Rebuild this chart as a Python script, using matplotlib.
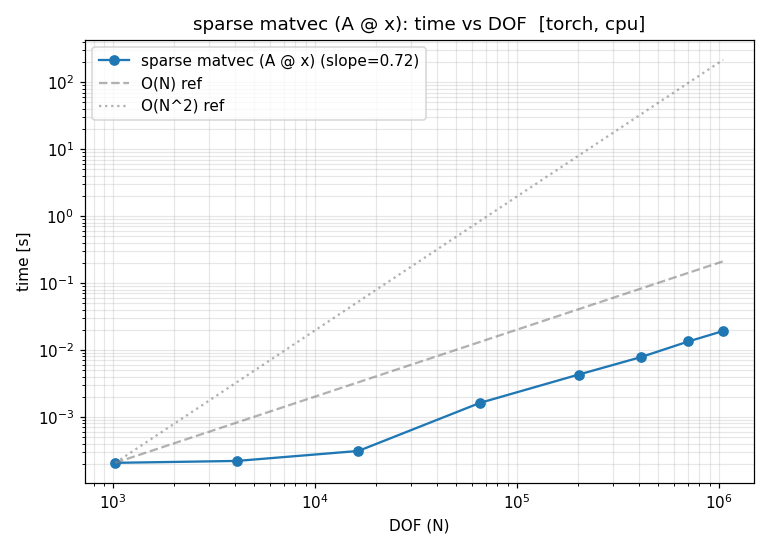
import numpy as np
import matplotlib
matplotlib.use("Agg")
import matplotlib.pyplot as plt

# DOF and measured matvec times
dof = np.array([1024, 4096, 16384, 65536, 202500, 409600, 705600, 1048576])
times = np.array([2.06e-4, 2.2e-4, 3.1e-4, 1.62e-3, 4.3e-3, 7.8e-3, 1.34e-2, 1.92e-2])

slope = np.polyfit(np.log(dof), np.log(times), 1)[0]

#reference curves anchored on first point
ref1 = times[0] * (dof / dof[0])
ref2 = times[0] * (dof / dof[0]) ** 2

fig, ax = plt.subplots(figsize=(7, 5), dpi=110)
ax.loglog(dof, times, marker='o', color='#1f77b4', label='sparse matvec (A @ x) (slope=%.2f)' % slope)
ax.loglog(dof, ref1, '--', color='gray', alpha=0.6, label='O(N) ref')
ax.loglog(dof, ref2, ':', color='gray', alpha=0.6, label='O(N^2) ref')
ax.set_xlabel('DOF (N)')
ax.set_ylabel('time [s]')
ax.set_title('sparse matvec (A @ x): time vs DOF  [torch, cpu]')
ax.grid(True, which='both', alpha=0.3)
ax.legend()
fig.tight_layout()
fig.savefig('out.png')
